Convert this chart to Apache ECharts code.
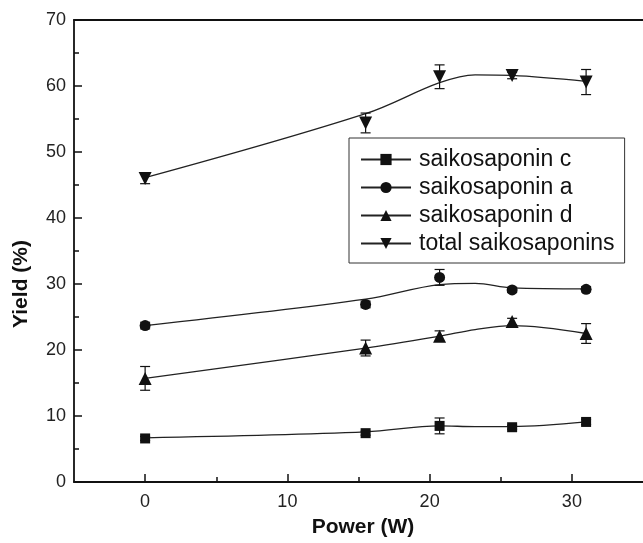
<!DOCTYPE html>
<html>
<head>
<meta charset="utf-8">
<script src="https://cdn.jsdelivr.net/npm/echarts@6/dist/echarts.min.js"></script>
<style>
  html, body { margin: 0; padding: 0; background: #fff; }
  #chart { width: 643px; height: 543px; }
</style>
</head>
<body>
<div id="chart"></div>
<script>
// measured points (x = power, W)
const powers = [0, 15.5, 20.7, 25.8, 31];
const saikoC = [6.6, 7.4, 8.5, 8.3, 9.1];
const saikoA = [23.7, 26.9, 31.0, 29.1, 29.2];
const saikoD = [15.7, 20.3, 22.1, 24.3, 22.5];
const saikoTotal = [46.0, 54.4, 61.4, 61.6, 60.6];

// error bars (half length)
const errC = [0.3, 0.3, 1.2, 0.3, 0.4];
const errA = [0.5, 0.5, 1.2, 0.4, 0.4];
const errD = [1.8, 1.2, 0.8, 0.5, 1.5];
const errTotal = [0.8, 1.5, 1.8, 0.5, 1.9];

// fitted curves
const curveX = [0, 15.5, 20.7, 23.2, 25.8, 31];
const curveC = [6.7, 7.6, 8.5, 8.4, 8.4, 9.1];
const curveA = [23.7, 27.7, 29.9, 30.1, 29.4, 29.25];
const curveD = [15.7, 20.3, 22.1, 23.1, 23.7, 22.5];
const curveTotal = [46.1, 55.8, 60.5, 61.7, 61.6, 60.7];

// axis ticks
const xTicks = [0, 10, 20, 30];
const xMinorTicks = [5, 15, 25];

const FONT = '"Liberation Sans", Arial, sans-serif';
const INK = '#111';

const groups = [
  { name: 'saikosaponin c', pts: saikoC, err: errC, curve: curveC, symbol: 'rect', size: 10, rotate: 0 },
  { name: 'saikosaponin a', pts: saikoA, err: errA, curve: curveA, symbol: 'circle', size: 11, rotate: 0 },
  { name: 'saikosaponin d', pts: saikoD, err: errD, curve: curveD, symbol: 'triangle', size: 13, rotate: 0 },
  { name: 'total saikosaponins', pts: saikoTotal, err: errTotal, curve: curveTotal, symbol: 'triangle', size: 13, rotate: 180 }
];

const chart = echarts.init(document.getElementById('chart'));

const series = [];
groups.forEach(g => {
  // fitted curve, also gives the legend icon
  series.push({
    name: g.name,
    type: 'line',
    smooth: 0.35,
    showSymbol: false,
    symbol: g.symbol,
    symbolRotate: g.rotate,
    symbolSize: g.size,
    silent: true,
    lineStyle: { color: '#222', width: 1.3 },
    itemStyle: { color: INK },
    data: curveX.map((x, i) => [x, g.curve[i]]),
    z: 2
  });
  // error bars
  series.push({
    name: g.name + ' err',
    type: 'custom',
    silent: true,
    data: powers.map((x, i) => [x, g.pts[i] - g.err[i], g.pts[i] + g.err[i]]),
    renderItem: (params, api) => {
      const lo = api.coord([api.value(0), api.value(1)]);
      const hi = api.coord([api.value(0), api.value(2)]);
      const cap = 5;
      const style = { stroke: INK, lineWidth: 1.2 };
      return {
        type: 'group',
        children: [
          { type: 'line', shape: { x1: lo[0], y1: lo[1], x2: hi[0], y2: hi[1] }, style },
          { type: 'line', shape: { x1: lo[0] - cap, y1: lo[1], x2: lo[0] + cap, y2: lo[1] }, style },
          { type: 'line', shape: { x1: hi[0] - cap, y1: hi[1], x2: hi[0] + cap, y2: hi[1] }, style }
        ]
      };
    },
    z: 3
  });
  // markers
  series.push({
    name: g.name + ' pts',
    type: 'scatter',
    symbol: g.symbol,
    symbolRotate: g.rotate,
    symbolSize: g.size,
    itemStyle: { color: INK, opacity: 1 },
    data: powers.map((x, i) => [x, g.pts[i]]),
    z: 4
  });
});

const option = {
  animation: false,
  textStyle: { fontFamily: FONT },
  grid: { left: 74, right: -4, top: 20, bottom: 59, show: false },
  legend: {
    data: groups.map(g => g.name),
    orient: 'vertical',
    left: 349,
    top: 138,
    padding: [10, 10, 8, 11],
    itemGap: 5,
    itemWidth: 50,
    itemHeight: 14,
    selectedMode: false,
    backgroundColor: '#fff',
    borderColor: '#333',
    borderWidth: 1,
    textStyle: { fontFamily: FONT, fontSize: 23, color: INK, padding: [0, 0, 0, 3] }
  },
  xAxis: [
    {
      type: 'value',
      min: -5,
      max: 35,
      name: 'Power (W)',
      nameLocation: 'middle',
      nameGap: 35,
      nameTextStyle: { fontFamily: FONT, fontSize: 21, fontWeight: 'bold', color: INK, padding: [0, 0, 0, 9] },
      axisLine: { onZero: false, lineStyle: { color: INK, width: 1.8 } },
      axisTick: { inside: true, length: 8, customValues: xTicks, lineStyle: { color: INK, width: 1.5 } },
      axisLabel: { customValues: xTicks, fontSize: 18, color: '#222', margin: 11 },
      splitLine: { show: false }
    },
    {
      type: 'value',
      position: 'bottom',
      min: -5,
      max: 35,
      axisLine: { show: false, onZero: false },
      axisTick: { inside: true, length: 5, customValues: xMinorTicks, lineStyle: { color: INK, width: 1.5 } },
      axisLabel: { show: false },
      splitLine: { show: false }
    },
    {
      type: 'value',
      position: 'top',
      min: -5,
      max: 35,
      axisLine: { onZero: false, lineStyle: { color: INK, width: 1.8 } },
      axisTick: { show: false },
      axisLabel: { show: false },
      splitLine: { show: false }
    }
  ],
  yAxis: {
    type: 'value',
    min: 0,
    max: 70,
    interval: 10,
    name: 'Yield (%)',
    nameLocation: 'middle',
    nameGap: 42,
    nameTextStyle: { fontFamily: FONT, fontSize: 21, fontWeight: 'bold', color: INK, padding: [0, 66, 0, 0] },
    axisLine: { show: true, onZero: false, lineStyle: { color: INK, width: 1.8 } },
    axisTick: { inside: true, length: 8, lineStyle: { color: INK, width: 1.5 } },
    minorTick: { show: true, splitNumber: 2, length: 5, lineStyle: { color: INK, width: 1.5 } },
    axisLabel: { fontSize: 18, color: '#222', margin: 8 },
    splitLine: { show: false }
  },
  series: series
};

chart.setOption(option);
</script>
</body>
</html>
